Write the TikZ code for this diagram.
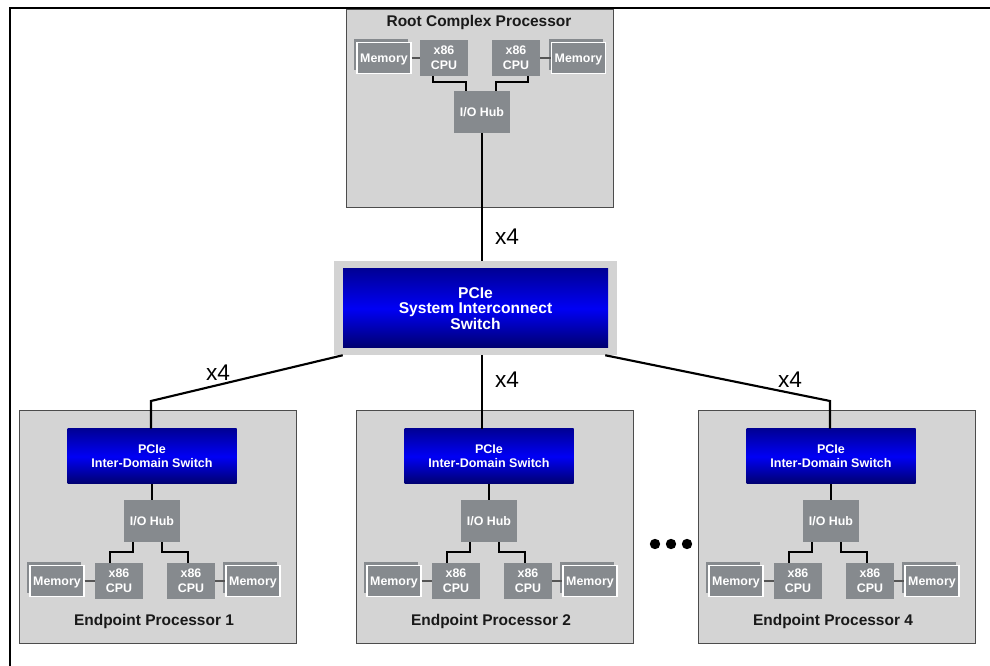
\documentclass[tikz,border=0pt]{standalone}
\usepackage{fontspec}
\setmainfont{Liberation Sans}
\usetikzlibrary{shadows}
\definecolor{boxgray}{HTML}{D4D4D4}
\definecolor{partgray}{HTML}{868A8E}
\definecolor{rimgray}{HTML}{D3D3D3}
\definecolor{linkgray}{HTML}{555555}
\definecolor{pcitop}{RGB}{0,0,150}
\definecolor{pcimid}{RGB}{0,0,245}
\definecolor{pcibot}{RGB}{0,0,110}
\begin{document}
\begin{tikzpicture}[x=0.75pt,y=-0.75pt,
  every node/.style={font=\bfseries\fontsize{9.3}{11.2}\selectfont,inner sep=0pt},
  procbox/.style={draw=gray!60!black,fill=boxgray,line width=0.6pt},
  proctitle/.style={text=black!90,font=\bfseries\fontsize{11.6}{13}\selectfont},
  partbox/.style={fill=partgray,text=white,align=center,text depth=0pt},
  cpubox/.style={partbox,minimum width=36pt,minimum height=27pt},
  hubbox/.style={partbox,minimum width=42pt,minimum height=31.5pt},
  membox/.style={partbox,draw=white,line width=0.9pt,minimum width=40.5pt,minimum height=23.25pt,
    general shadow={fill=partgray,shadow xshift=-2.25pt,shadow yshift=2.25pt}},
  pciebox/.style={text=white,align=center,top color=pcitop,bottom color=pcibot,middle color=pcimid},
  link/.style={line width=1.6pt},
  memlink/.style={linkgray,line width=1.5pt},
  lanes/.style={font=\fontsize{17}{17}\selectfont}]
\useasboundingbox (0,0) rectangle (990,666);

% root complex
\node[procbox,minimum width=200.25pt,minimum height=148.5pt] (root) at (479.5,108) {};
\node[proctitle] (roott) at (479,23) {Root Complex Processor};
\node[membox] (mema0) at (384,58) {Memory};
\node[cpubox] (cpua0) at (444,58) {x86\\CPU};
\node[cpubox] (cpub0) at (516,58) {x86\\CPU};
\node[membox] (memb0) at (578.5,58) {Memory};
\node[hubbox] (hub0) at (482,112) {I/O Hub};
\draw[memlink] (mema0) -- (cpua0); \draw[memlink] (cpub0) -- (memb0);
\draw[link] ([xshift=-8.25pt]cpua0.south) -- ++(0,6) -| ([xshift=-12pt]hub0.north);
\draw[link] ([xshift=9pt]cpub0.south) -- ++(0,6) -| ([xshift=10.5pt]hub0.north);

% system switch
\node[fill=rimgray,minimum width=212.25pt,minimum height=70.5pt] (sysrim) at (475.5,308) {};
\node[pciebox,minimum width=198.75pt,minimum height=59.25pt,font=\bfseries\fontsize{11.7}{10.9}\selectfont]
  (syssw) at (475.5,308.5) {PCIe\\System Interconnect\\Switch};
\draw[link] (hub0.south) -- (hub0.south |- sysrim.north);
\node[lanes] (lane0) at (507,237) {x4};

% endpoints
\foreach \n/\L in {1/19,2/356,4/698}{
  \pgfmathsetmacro{\c}{\L+133}
  \pgfmathsetmacro{\r}{\L+136}
  \node[procbox,minimum width=207.75pt,minimum height=174.75pt] (ep\n) at (\L+138.5,526.5) {};
  \node[proctitle] (ept\n) at (\L+135,622) {Endpoint Processor \n};
  \node[pciebox,minimum width=126.75pt,minimum height=41.25pt,font=\bfseries\fontsize{9.4}{10.3}\selectfont]
    (idsw\n) at (\c,456.5) {PCIe\\Inter-Domain Switch};
  \node[hubbox] (hub\n) at (\c,521) {I/O Hub};
  \node[membox] (mema\n) at (\r-98,581) {Memory};
  \node[cpubox] (cpua\n) at (\r-36,581) {x86\\CPU};
  \node[cpubox] (cpub\n) at (\r+36,581) {x86\\CPU};
  \node[membox] (memb\n) at (\r+98,581) {Memory};
  \draw[link] (idsw\n) -- (hub\n);
  \draw[memlink] (mema\n) -- (cpua\n); \draw[memlink] (cpub\n) -- (memb\n);
  \draw[link] ([xshift=-14pt]hub\n.south) -- ++(0,10) -| ([xshift=-7pt]cpua\n.north);
  \draw[link] ([xshift=7.5pt]hub\n.south) -- ++(0,10) -| ([xshift=-2pt]cpub\n.north);
}

% links to endpoints
\coordinate (bend1) at (151,401);
\coordinate (bend4) at (830,401);
\draw[link] ([xshift=6.75pt]sysrim.south west) -- (bend1) -- (bend1 |- idsw1.north);
\draw[link] (hub0.south |- sysrim.south) -- (hub0.south |- idsw2.north);
\draw[link] ([xshift=-9pt]sysrim.south east) -- (bend4) -- (bend4 |- idsw4.north);
\node[lanes] (lane1) at (218,373) {x4};
\node[lanes] (lane2) at (507,380) {x4};
\node[lanes] (lane4) at (790,380) {x4};

\foreach \x in {655,671,687} \fill (\x,544) circle (3.9pt);

% frame
\draw[line width=2.2pt] (10,666) -- (10,8) -- (990,8);
\end{tikzpicture}
\end{document}
